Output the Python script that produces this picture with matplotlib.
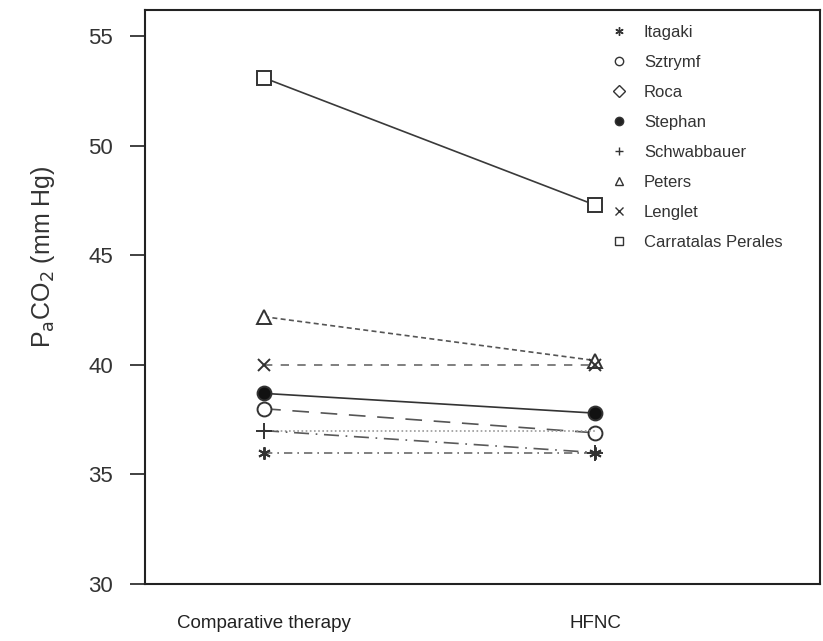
import matplotlib.pyplot as plt
from matplotlib.lines import Line2D

plt.rcParams['font.family'] = ['Liberation Sans', 'DejaVu Sans']

groups = ['Comparative therapy', 'HFNC']
studies = ['Itagaki', 'Sztrymf', 'Roca', 'Stephan', 'Schwabbauer',
           'Peters', 'Lenglet', 'Carratalas Perales']
itagaki = [36.0, 36.0]
sztrymf = [38.0, 36.9]
roca = [37.0, 37.0]
stephan = [38.7, 37.8]
schwabbauer = [37.0, 36.0]
peters = [42.2, 40.2]
lenglet = [40.0, 40.0]
carratalas = [53.1, 47.3]
yticks = [30, 35, 40, 45, 50, 55]

line_col = '#4a4a4a'
x = [0, 1]

fig = plt.figure(figsize=(8.23, 6.41), dpi=100)
ax = fig.add_axes([145 / 823, 1 - 584 / 641, 675 / 823, 574 / 641])

# (values, marker, linestyle, line colour, marker face, marker size)
series = [
    (itagaki, (6, 2, 0), (0, (5, 3, 1, 3)), '#6a6a6a', line_col, 9),
    (sztrymf, 'o', (0, (10, 7)), '#555555', 'white', 10),
    (roca, 'D', (0, (1, 1.5)), '#9a9a9a', 'white', 7),
    (stephan, 'o', '-', '#333333', '#111111', 10),
    (schwabbauer, '+', (0, (9, 4, 1, 4)), '#5a5a5a', line_col, 11),
    (peters, '^', (0, (3, 2)), '#555555', 'white', 10),
    (lenglet, 'x', (0, (5, 5)), '#6a6a6a', line_col, 9),
    (carratalas, 's', '-', '#3a3a3a', 'white', 10),
]

handles = []
for name, (vals, mk, ls, lc, mfc, ms) in zip(studies, series):
    # Roca's markers sit under the other symbols, so only its line shows
    show_markers = name != 'Roca'
    ax.plot(x, vals, linestyle=ls, color=lc, linewidth=1.2,
            marker=mk if show_markers else None, markersize=ms,
            markerfacecolor=mfc, markeredgecolor='#333333',
            markeredgewidth=1.4, zorder=3)
    handles.append(Line2D([], [], linestyle='none', marker=mk, markersize=6,
                          markerfacecolor=mfc if mfc == 'white' else '#222222',
                          markeredgecolor='#333333', markeredgewidth=1.0,
                          label=name))

ax.set_xlim(-0.36, 1.68)
ax.set_ylim(30, 56.2)
ax.set_xticks(x)
ax.set_xticklabels(groups, fontsize=13.5, color='#222222')
ax.tick_params(axis='x', length=0, pad=22)
ax.set_yticks(yticks)
ax.tick_params(axis='y', length=11, width=1.3, labelsize=16,
               labelcolor='#333333', pad=12, color='#333333')
for s in ax.spines.values():
    s.set_linewidth(1.5)
    s.set_color('#222222')

ax.set_ylabel(r'P$_{\mathrm{a}}$CO$_2$ (mm Hg)', fontsize=18, color='#333333')
ax.yaxis.set_label_coords(-0.13, 0.57)

ax.legend(handles=handles, loc='upper left', bbox_to_anchor=(0.655, 1.0),
          frameon=False, fontsize=12, handletextpad=0.5, labelspacing=0.9,
          borderaxespad=0.5, labelcolor='#333333')

fig.savefig('out.png', dpi=100)
